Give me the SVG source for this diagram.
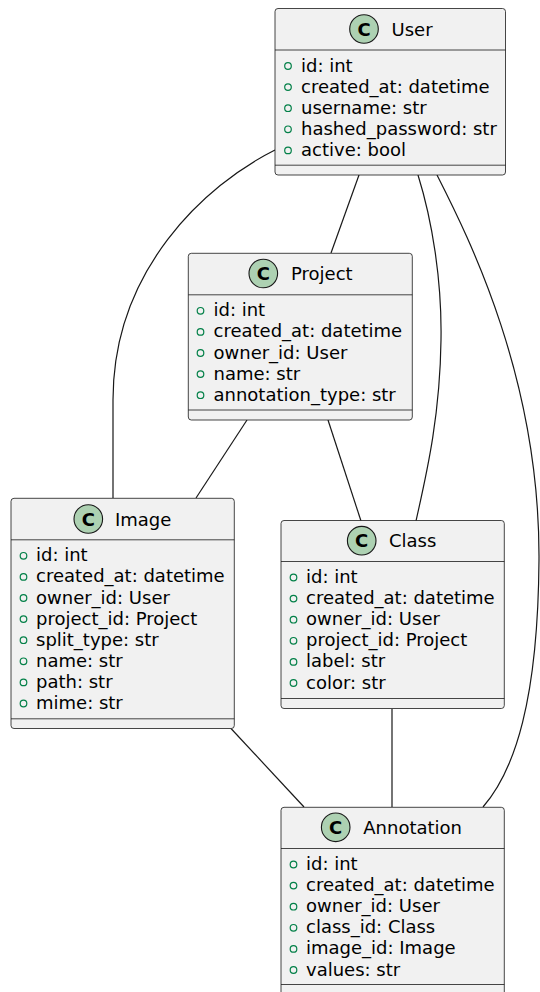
<svg xmlns="http://www.w3.org/2000/svg" width="540" height="992" viewBox="0 0 540 992">
  <style>
    .box { fill: #F1F1F1; stroke: #181818; stroke-width: 0.8; }
    .sep { stroke: #181818; stroke-width: 0.8; fill: none; }
    .badge { fill: #ADD1B2; stroke: #181818; stroke-width: 1.1; }
    .badge-letter { font-family: "DejaVu Sans", sans-serif; font-size: 18px; font-weight: bold; fill: #000; text-anchor: middle; }
    .title { font-family: "DejaVu Sans", sans-serif; font-size: 18px; fill: #000; }
    .attr { font-family: "DejaVu Sans", sans-serif; font-size: 18px; fill: #000; }
    .vis { fill: none; stroke: #038048; stroke-width: 1.2; }
    .link { fill: none; stroke: #181818; stroke-width: 1.2; }
  </style>

  <!-- associations between entities -->
  <g id="connectors">
    <path class="link" d="M275,150 C205,185 113,270 113,400 L113,498"/>
    <path class="link" d="M359,175 L331,253"/>
    <path class="link" d="M418,175 C432,220 442,280 441,340 C440,420 425,480 416,521"/>
    <path class="link" d="M437,175 C470,240 540,380 539,560 C538,700 515,770 483,807"/>
    <path class="link" d="M247,420 L196,498"/>
    <path class="link" d="M328,420 L361,521"/>
    <path class="link" d="M231,728.5 L304,807"/>
    <path class="link" d="M392,709 L392,807"/>
  </g>

  <!-- User -->
  <g id="User">
    <rect class="box" x="275" y="8.5" width="230.5" height="166.5" rx="3"/>
    <line class="sep" x1="275" y1="50" x2="505.5" y2="50"/>
    <line class="sep" x1="275" y1="165.2" x2="505.5" y2="165.2"/>
    <circle class="badge" cx="364" cy="29" r="14.3"/>
    <text class="badge-letter" x="364" y="35.5">C</text>
    <text class="title" x="391.5" y="35.5">User</text>
    <circle class="vis" cx="288" cy="66" r="3.3"/>
    <text class="attr" x="301" y="71.5">id: int</text>
    <circle class="vis" cx="288" cy="87.1" r="3.3"/>
    <text class="attr" x="301" y="92.6">created_at: datetime</text>
    <circle class="vis" cx="288" cy="108.2" r="3.3"/>
    <text class="attr" x="301" y="113.7">username: str</text>
    <circle class="vis" cx="288" cy="129.3" r="3.3"/>
    <text class="attr" x="301" y="134.8">hashed_password: str</text>
    <circle class="vis" cx="288" cy="150.4" r="3.3"/>
    <text class="attr" x="301" y="155.9">active: bool</text>
  </g>

  <!-- Project -->
  <g id="Project">
    <rect class="box" x="188.3" y="253.3" width="224" height="166.7" rx="3"/>
    <line class="sep" x1="188.3" y1="294.8" x2="412.3" y2="294.8"/>
    <line class="sep" x1="188.3" y1="410" x2="412.3" y2="410"/>
    <circle class="badge" cx="263.3" cy="273.5" r="14.3"/>
    <text class="badge-letter" x="263.3" y="280">C</text>
    <text class="title" x="291" y="280">Project</text>
    <circle class="vis" cx="200.5" cy="310.8" r="3.3"/>
    <text class="attr" x="213.5" y="316.3">id: int</text>
    <circle class="vis" cx="200.5" cy="331.9" r="3.3"/>
    <text class="attr" x="213.5" y="337.4">created_at: datetime</text>
    <circle class="vis" cx="200.5" cy="353" r="3.3"/>
    <text class="attr" x="213.5" y="358.5">owner_id: User</text>
    <circle class="vis" cx="200.5" cy="374.1" r="3.3"/>
    <text class="attr" x="213.5" y="379.6">name: str</text>
    <circle class="vis" cx="200.5" cy="395.2" r="3.3"/>
    <text class="attr" x="213.5" y="400.7">annotation_type: str</text>
  </g>

  <!-- Image -->
  <g id="Image">
    <rect class="box" x="11" y="498.3" width="223.3" height="230.2" rx="3"/>
    <line class="sep" x1="11" y1="539.8" x2="234.3" y2="539.8"/>
    <line class="sep" x1="11" y1="718.8" x2="234.3" y2="718.8"/>
    <circle class="badge" cx="88.3" cy="519" r="14.3"/>
    <text class="badge-letter" x="88.3" y="525.5">C</text>
    <text class="title" x="115" y="525.5">Image</text>
    <circle class="vis" cx="23.5" cy="555.8" r="3.3"/>
    <text class="attr" x="36" y="561.3">id: int</text>
    <circle class="vis" cx="23.5" cy="576.9" r="3.3"/>
    <text class="attr" x="36" y="582.4">created_at: datetime</text>
    <circle class="vis" cx="23.5" cy="598" r="3.3"/>
    <text class="attr" x="36" y="603.5">owner_id: User</text>
    <circle class="vis" cx="23.5" cy="619.1" r="3.3"/>
    <text class="attr" x="36" y="624.6">project_id: Project</text>
    <circle class="vis" cx="23.5" cy="640.2" r="3.3"/>
    <text class="attr" x="36" y="645.7">split_type: str</text>
    <circle class="vis" cx="23.5" cy="661.3" r="3.3"/>
    <text class="attr" x="36" y="666.8">name: str</text>
    <circle class="vis" cx="23.5" cy="682.4" r="3.3"/>
    <text class="attr" x="36" y="687.9">path: str</text>
    <circle class="vis" cx="23.5" cy="703.5" r="3.3"/>
    <text class="attr" x="36" y="709">mime: str</text>
  </g>

  <!-- Class -->
  <g id="Class">
    <rect class="box" x="281" y="520.5" width="223.3" height="188" rx="3"/>
    <line class="sep" x1="281" y1="561.5" x2="504.3" y2="561.5"/>
    <line class="sep" x1="281" y1="698.5" x2="504.3" y2="698.5"/>
    <circle class="badge" cx="361.7" cy="540.7" r="14.3"/>
    <text class="badge-letter" x="361.7" y="547.2">C</text>
    <text class="title" x="389" y="547.2">Class</text>
    <circle class="vis" cx="293.5" cy="577.5" r="3.3"/>
    <text class="attr" x="306" y="583">id: int</text>
    <circle class="vis" cx="293.5" cy="598.6" r="3.3"/>
    <text class="attr" x="306" y="604.1">created_at: datetime</text>
    <circle class="vis" cx="293.5" cy="619.7" r="3.3"/>
    <text class="attr" x="306" y="625.2">owner_id: User</text>
    <circle class="vis" cx="293.5" cy="640.8" r="3.3"/>
    <text class="attr" x="306" y="646.3">project_id: Project</text>
    <circle class="vis" cx="293.5" cy="661.9" r="3.3"/>
    <text class="attr" x="306" y="667.4">label: str</text>
    <circle class="vis" cx="293.5" cy="683" r="3.3"/>
    <text class="attr" x="306" y="688.5">color: str</text>
  </g>

  <!-- Annotation -->
  <g id="Annotation">
    <rect class="box" x="281" y="807.3" width="223.3" height="188" rx="3"/>
    <line class="sep" x1="281" y1="848.5" x2="504.3" y2="848.5"/>
    <line class="sep" x1="281" y1="984.5" x2="504.3" y2="984.5"/>
    <circle class="badge" cx="335.7" cy="827.3" r="14.3"/>
    <text class="badge-letter" x="335.7" y="833.8">C</text>
    <text class="title" x="363.3" y="833.8">Annotation</text>
    <circle class="vis" cx="293.5" cy="864.5" r="3.3"/>
    <text class="attr" x="306" y="870">id: int</text>
    <circle class="vis" cx="293.5" cy="885.6" r="3.3"/>
    <text class="attr" x="306" y="891.1">created_at: datetime</text>
    <circle class="vis" cx="293.5" cy="906.7" r="3.3"/>
    <text class="attr" x="306" y="912.2">owner_id: User</text>
    <circle class="vis" cx="293.5" cy="927.8" r="3.3"/>
    <text class="attr" x="306" y="933.3">class_id: Class</text>
    <circle class="vis" cx="293.5" cy="948.9" r="3.3"/>
    <text class="attr" x="306" y="954.4">image_id: Image</text>
    <circle class="vis" cx="293.5" cy="970" r="3.3"/>
    <text class="attr" x="306" y="975.5">values: str</text>
  </g>
</svg>
